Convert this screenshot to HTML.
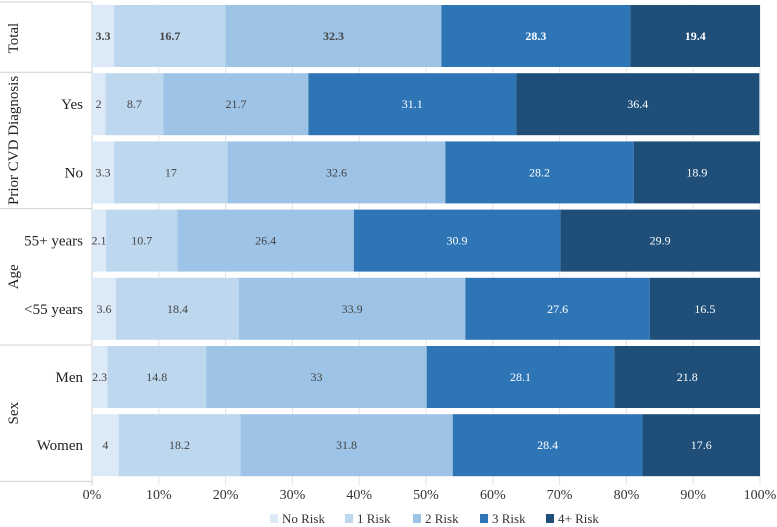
<!DOCTYPE html>
<html><head><meta charset="utf-8"><style>
body{margin:0;background:#fff;font-family:'Liberation Serif','DejaVu Serif','Times New Roman',serif}
svg{display:block}
</style></head><body>
<svg id="chart" width="777" height="527" xmlns="http://www.w3.org/2000/svg"></svg>
<script>
const categories=["Total","Yes","No","55+ years","<55 years","Men","Women"];
const noRisk=[3.3,2,3.3,2.1,3.6,2.3,4];
const oneRisk=[16.7,8.7,17,10.7,18.4,14.8,18.2];
const twoRisk=[32.3,21.7,32.6,26.4,33.9,33,31.8];
const threeRisk=[28.3,31.1,28.2,30.9,27.6,28.1,28.4];
const fourRisk=[19.4,36.4,18.9,29.9,16.5,21.8,17.6];
const seriesNames=["No Risk","1 Risk","2 Risk","3 Risk","4+ Risk"];
const xTicks=[0,10,20,30,40,50,60,70,80,90,100];
const groups=[{name:"Total",from:0,to:0},{name:"Prior CVD Diagnosis",from:1,to:2},{name:"Age",from:3,to:4},{name:"Sex",from:5,to:6}];

const colors=["#dce9f6","#bdd7ee","#9dc3e6","#2e75b6","#1f4e79"];
const textCol=["#444","#444","#444","#fff","#fff"];
const FONT="font-family:'Liberation Serif','DejaVu Serif','Times New Roman',serif";
const svg=document.getElementById('chart');
const NS="http://www.w3.org/2000/svg";
const X0=92,X1=760,TOP=4,PITCH=68.2,BH=62;
const xs=v=>X0+(X1-X0)*v/100;
const yRow=i=>TOP+i*PITCH+1;
function mk(t,a,p){const e=document.createElementNS(NS,t);for(const k in a)e.setAttribute(k,a[k]);if(t==='text')e.setAttribute('style',FONT);(p||svg).appendChild(e);return e;}
const BOTTOM=TOP+categories.length*PITCH+4;
xTicks.forEach(t=>{
  const l=mk('line',{x1:xs(t),x2:xs(t),y1:TOP,y2:BOTTOM,stroke:'#e4e4e4','stroke-width':1});
  
  
  const tx=mk('text',{x:xs(t),y:499,'text-anchor':'middle','font-size':14,fill:'#333'});
  tx.textContent=t+'%';
  
  
});
mk('line',{x1:X0,x2:X0,y1:TOP-2,y2:BOTTOM,stroke:'#d0d0d0'});
mk('line',{x1:0,x2:X0,y1:TOP-2,y2:TOP-2,stroke:'#d0d0d0'});
groups.forEach((g,gi)=>{
  const yb=TOP+(g.to+1)*PITCH;
  mk('line',{x1:0,x2:X0,y1:yb,y2:yb,stroke:'#d0d0d0'});
  const yc=TOP+(g.from+g.to+1)*PITCH/2;
  const t=mk('text',{x:0,y:0,'text-anchor':'middle','font-size':15,fill:'#222',transform:`translate(18,${yc}) rotate(-90)`});
  t.textContent=g.name;
  
  
});
const series=[noRisk,oneRisk,twoRisk,threeRisk,fourRisk];
categories.forEach((c,i)=>{
  const y=yRow(i);
  if(i>0){const t=mk('text',{x:83,y:y+BH/2+5,'text-anchor':'end','font-size':15,fill:'#222'});t.textContent=c;
  
  }
  let acc=0;
  series.forEach((s,k)=>{
    const v=s[i];
    const r=mk('rect',{x:xs(acc),y:y,width:xs(acc+v)-xs(acc),height:BH,fill:colors[k]});
    
    
    const t=mk('text',{x:(xs(acc)+xs(acc+v))/2,y:y+BH/2+4,'text-anchor':'middle','font-size':12,fill:textCol[k],'font-weight':i===0?'bold':'normal'});
    t.textContent=v;
    
    
    acc+=v;
  });
});
const lx=[270,345,413,480,546];
seriesNames.forEach((n,k)=>{
  const g=mk('g',{});
  
  
  mk('rect',{x:lx[k],y:514,width:8,height:9,fill:colors[k]},g);
  const t=mk('text',{x:lx[k]+12,y:523,'font-size':13,fill:'#333'},g);t.textContent=n;
});
</script>
</body></html>
